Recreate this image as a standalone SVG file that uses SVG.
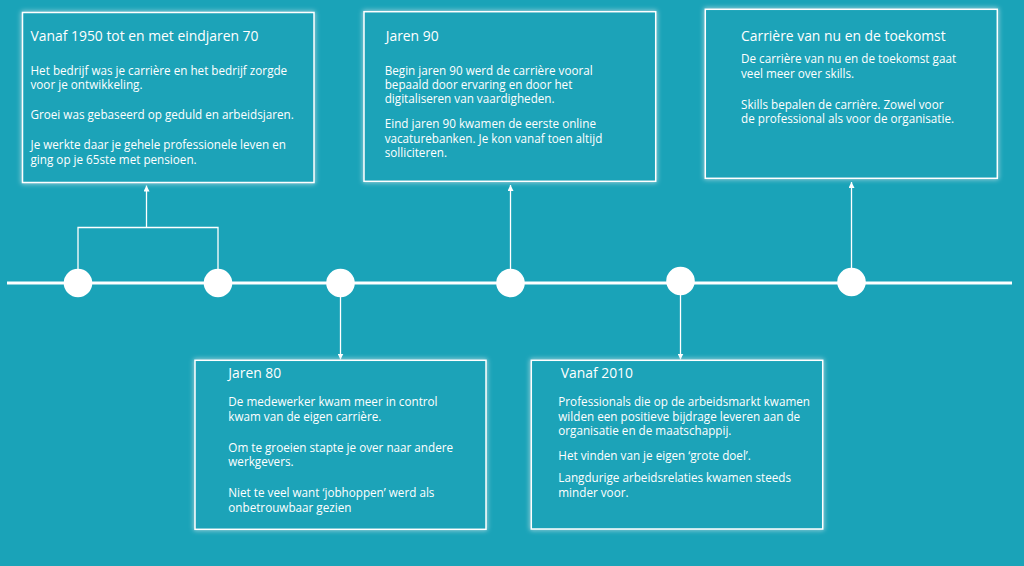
<svg xmlns="http://www.w3.org/2000/svg" width="1024" height="566" viewBox="0 0 1024 566">
<defs>
<style>
.box{fill:#1AA3B8;stroke:#FFFFFF;stroke-width:1.5;filter:url(#glow)}
.t{font-family:"Segoe UI","Open Sans","Noto Sans",sans-serif;fill:#FFFFFF}
.title{font-size:13.9px}
.body{font-size:11.7px}
.conn{fill:none;stroke:#FFFFFF;stroke-width:1.3}
.dot{fill:#FFFFFF}
</style>
<filter id="glow" x="-10%" y="-10%" width="120%" height="120%">
<feGaussianBlur in="SourceGraphic" stdDeviation="2.5" result="b"/>
<feMerge><feMergeNode in="b"/><feMergeNode in="SourceGraphic"/></feMerge>
</filter>
<marker id="arr" viewBox="0 0 6 6" refX="6" refY="3" markerWidth="6" markerHeight="6" markerUnits="userSpaceOnUse" orient="auto">
<path d="M0,0 L6,3 L0,6 Z" fill="#FFFFFF"/>
</marker>
</defs>
<rect width="1024" height="566" fill="#1AA3B8"/>

<g id="timeline">
<line x1="7" y1="283" x2="1012" y2="283" stroke="#FFFFFF" stroke-width="3"/>
</g>

<g id="connectors">
<path class="conn" d="M78,283 V227.5 H218 V283"/>
<path class="conn" d="M146.5,227.5 V185.5" marker-end="url(#arr)"/>
<path class="conn" d="M340.5,283 V359.5" marker-end="url(#arr)"/>
<path class="conn" d="M510.5,283 V185" marker-end="url(#arr)"/>
<path class="conn" d="M680.5,283 V359.5" marker-end="url(#arr)"/>
<path class="conn" d="M851.5,283 V182" marker-end="url(#arr)"/>
</g>

<g id="dots">
<circle class="dot" cx="78" cy="283" r="14.3"/>
<circle class="dot" cx="218" cy="283" r="14.3"/>
<circle class="dot" cx="340.5" cy="283" r="14.3"/>
<circle class="dot" cx="510.5" cy="283" r="14.3"/>
<circle class="dot" cx="680.5" cy="281" r="14.3"/>
<circle class="dot" cx="851.5" cy="282" r="14.3"/>
</g>

<g id="box-1950">
<rect class="box" x="22.5" y="12.5" width="291.5" height="170"/>
<text class="t title" x="30.5" y="40.5">Vanaf 1950 tot en met eindjaren 70</text>
<text class="t body" x="30.5" y="74.7">Het bedrijf was je carrière en het bedrijf zorgde</text>
<text class="t body" x="30.5" y="89.3">voor je ontwikkeling.</text>
<text class="t body" x="30.5" y="119.3">Groei was gebaseerd op geduld en arbeidsjaren.</text>
<text class="t body" x="30.5" y="149.3">Je werkte daar je gehele professionele leven en</text>
<text class="t body" x="30.5" y="164">ging op je 65ste met pensioen.</text>
</g>

<g id="box-1980">
<rect class="box" x="195" y="360.3" width="291" height="169"/>
<text class="t title" x="228.3" y="377.5">Jaren 80</text>
<text class="t body" x="228.3" y="406">De medewerker kwam meer in control</text>
<text class="t body" x="228.3" y="420.7">kwam van de eigen carrière.</text>
<text class="t body" x="228.3" y="451.7">Om te groeien stapte je over naar andere</text>
<text class="t body" x="228.3" y="466">werkgevers.</text>
<text class="t body" x="228.3" y="497.3">Niet te veel want ‘jobhoppen’ werd als</text>
<text class="t body" x="228.3" y="511.7">onbetrouwbaar gezien</text>
</g>

<g id="box-1990">
<rect class="box" x="364" y="11.7" width="291.7" height="169.6"/>
<text class="t title" x="385.7" y="40.5">Jaren 90</text>
<text class="t body" x="384.7" y="74.7">Begin jaren 90 werd de carrière vooral</text>
<text class="t body" x="384.7" y="89.3">bepaald door ervaring en door het</text>
<text class="t body" x="384.7" y="103.3">digitaliseren van vaardigheden.</text>
<text class="t body" x="384.7" y="128.3">Eind jaren 90 kwamen de eerste online</text>
<text class="t body" x="384.7" y="142.7">vacaturebanken. Je kon vanaf toen altijd</text>
<text class="t body" x="384.7" y="156.7">solliciteren.</text>
</g>

<g id="box-2010">
<rect class="box" x="531.3" y="360.3" width="291.4" height="168.7"/>
<text class="t title" x="560.7" y="377.5">Vanaf 2010</text>
<text class="t body" x="558.3" y="406">Professionals die op de arbeidsmarkt kwamen</text>
<text class="t body" x="558.3" y="420.7">wilden een positieve bijdrage leveren aan de</text>
<text class="t body" x="558.3" y="435.3">organisatie en de maatschappij.</text>
<text class="t body" x="558.3" y="460">Het vinden van je eigen ‘grote doel’.</text>
<text class="t body" x="558.3" y="482.3">Langdurige arbeidsrelaties kwamen steeds</text>
<text class="t body" x="558.3" y="496.7">minder voor.</text>
</g>

<g id="box-nu">
<rect class="box" x="705.3" y="9.3" width="292" height="169"/>
<text class="t title" x="741" y="40.5">Carrière van nu en de toekomst</text>
<text class="t body" x="741" y="63.3">De carrière van nu en de toekomst gaat</text>
<text class="t body" x="741" y="77.7">veel meer over skills.</text>
<text class="t body" x="741" y="109.3">Skills bepalen de carrière. Zowel voor</text>
<text class="t body" x="741" y="123.3">de professional als voor de organisatie.</text>
</g>
</svg>
